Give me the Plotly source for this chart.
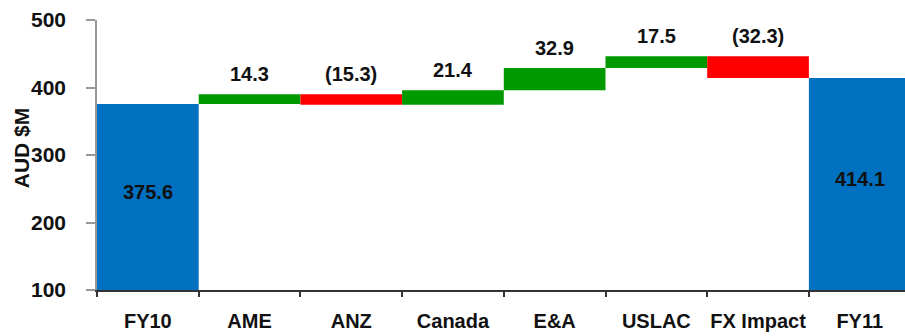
import plotly.graph_objects as go

# Revenue bridge FY10 -> FY11 (AUD $M)
categories = ["FY10", "AME", "ANZ", "Canada", "E&A", "USLAC", "FX Impact", "FY11"]
values = [375.6, 14.3, -15.3, 21.4, 32.9, 17.5, -32.3, 414.1]
measures = ["absolute", "relative", "relative", "relative", "relative", "relative", "relative", "total"]
y_ticks = [100, 200, 300, 400, 500]

BLUE = "#0070C0"
GREEN = "#009900"
RED = "#FF0000"
FONT = "Liberation Sans, Arial, sans-serif"
SIZE = 20


def bold(size):
    return dict(family=FONT, size=size, color="#111", weight="bold")


fig = go.Figure()
fig.add_trace(go.Waterfall(
    x=categories,
    y=values,
    measure=measures,
    base=0,
    width=[1.0] * len(categories),
    increasing=dict(marker=dict(color=GREEN, line=dict(width=0))),
    decreasing=dict(marker=dict(color=RED, line=dict(width=0))),
    totals=dict(marker=dict(color=BLUE, line=dict(width=0))),
    connector=dict(visible=False),
    hoverinfo="skip",
))


def fmt(v):
    return f"({abs(v):.1f})" if v < 0 else f"{v:.1f}"


# value labels: totals inside their bar, movements above the step
level = 0.0
y0 = y_ticks[0]
for cat, v, m in zip(categories, values, measures):
    if m == "absolute":
        level = v
        fig.add_annotation(x=cat, y=(y0 + v) / 2, text=fmt(v), showarrow=False,
                           yshift=5, font=bold(SIZE))
    elif m == "total":
        fig.add_annotation(x=cat, y=(y0 + level) / 2, text=fmt(level), showarrow=False,
                           yshift=5, font=bold(SIZE))
    else:
        top = max(level, level + v)
        level += v
        fig.add_annotation(x=cat, y=top, text=fmt(v), showarrow=False,
                           yanchor="bottom", yshift=7, font=bold(SIZE))

# y-axis title
fig.add_annotation(xref="paper", x=0, y=310, text="AUD $M", textangle=-90,
                   showarrow=False, xanchor="center", xshift=-76,
                   font=bold(21))

fig.update_layout(
    width=905, height=336,
    margin=dict(l=97, r=0, t=20, b=46, autoexpand=False),
    paper_bgcolor="white", plot_bgcolor="white",
    showlegend=False,
    bargap=0,
    font=bold(SIZE),
)
fig.update_xaxes(
    type="category",
    range=[-0.5, 7.445],
    automargin=False,
    tickangle=0,
    showline=True, linecolor="#333", linewidth=1.5,
    ticks="outside", tickson="boundaries", ticklen=5, tickcolor="#333", tickwidth=1.5,
    showgrid=False, zeroline=False,
    tickfont=bold(SIZE),
    ticklabelstandoff=12,
)
fig.update_yaxes(
    range=[100, 500],
    tickvals=y_ticks,
    automargin=False,
    showline=True, linecolor="#999", linewidth=1.5,
    ticks="outside", ticklen=9, tickcolor="#999", tickwidth=1.5,
    showgrid=False, zeroline=False,
    tickfont=bold(21),
    ticklabelstandoff=16,
)

fig.write_html("out.html")
